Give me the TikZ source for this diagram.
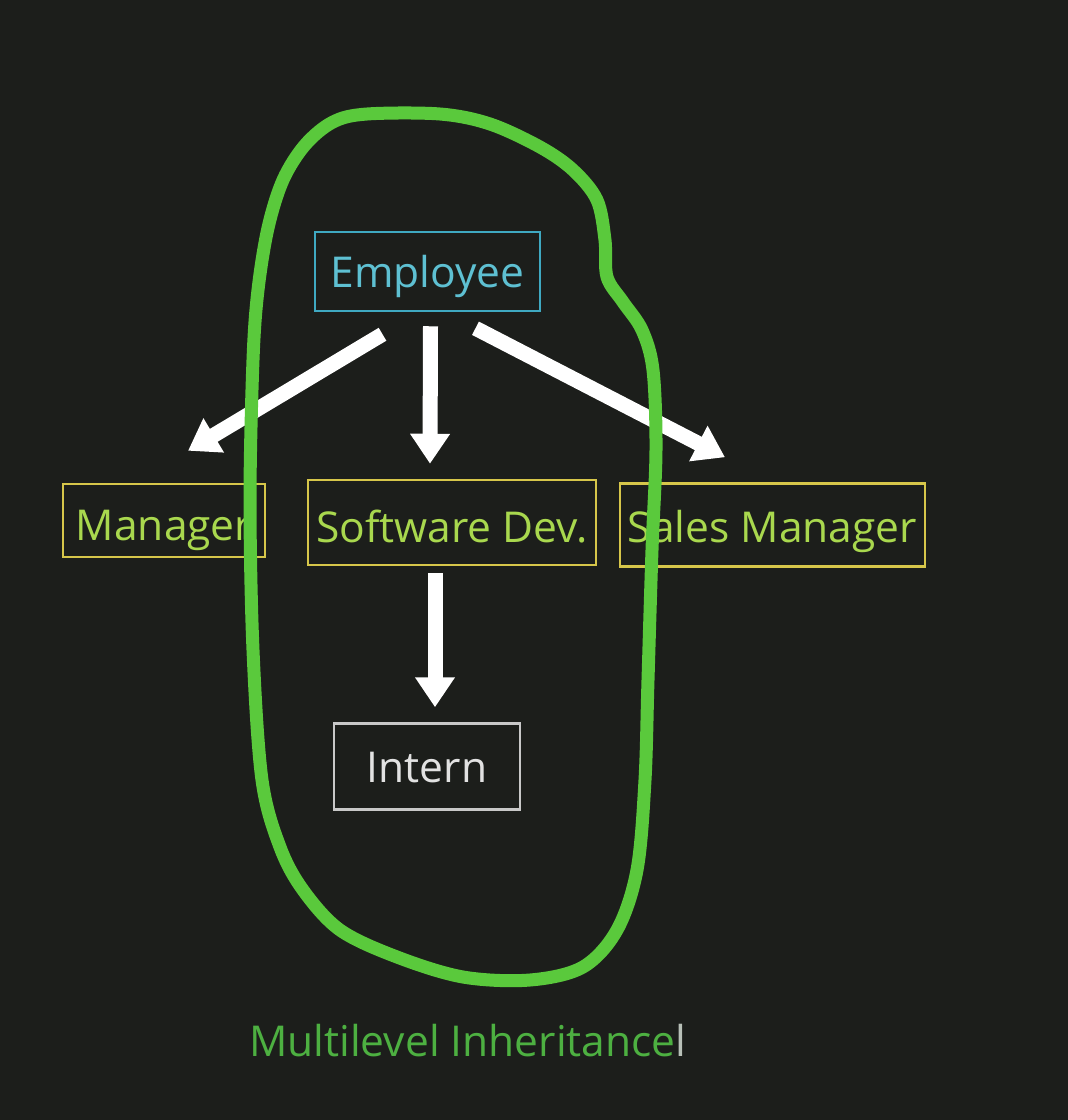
\documentclass[tikz,border=0pt]{standalone}
\usepackage{fontspec}
\setmainfont{Open Sans}
\usetikzlibrary{arrows.meta,calc}
\definecolor{bg}{HTML}{1C1E1B}
\definecolor{cyanb}{HTML}{3FA9C2}
\definecolor{cyant}{HTML}{5EC0D2}
\definecolor{yelb}{HTML}{D6C64A}
\definecolor{yelt}{HTML}{A9D84E}
\definecolor{grayb}{HTML}{C8C8C8}
\definecolor{grayt}{HTML}{E2E2E2}
\definecolor{pen}{HTML}{5AC93C}
\definecolor{lbl}{HTML}{4DB041}
\definecolor{cursor}{HTML}{B8C0B8}
\tikzset{
  classbox/.style={draw, line width=2.5pt, inner sep=0pt,
    font=\fontsize{42.5}{50}\selectfont, text height=42pt, text depth=10pt},
  inharrow/.style={draw=white, line width=15pt,
    -{Triangle[width=38pt,length=30pt]}},
  penloop/.style={draw=pen, line width=13pt, line join=round}
}
\begin{document}
\begin{tikzpicture}[x=1pt,y=-1pt]
\fill[bg] (0,0) rectangle (1068,1120);
\useasboundingbox (0,0) rectangle (1068,1120);

\node[classbox, draw=cyanb, text=cyant, minimum width=225pt, minimum height=79pt] (emp) at (427.5,271.5) {Employee};
\node[classbox, draw=yelb, text=yelt, minimum width=202pt, minimum height=73pt, text height=50pt] (mgr) at (164,520.5) {Manager};
\node[classbox, draw=yelb, text=yelt, minimum width=288pt, minimum height=85pt, text height=50pt] (sd) at (452,522.5) {Software Dev.};
\node[classbox, draw=yelb, text=yelt, minimum width=305pt, minimum height=83pt, text height=44pt] (sales) at (772.5,525) {Sales Manager};
\node[classbox, draw=grayb, text=grayt, minimum width=186pt, minimum height=86pt, text height=41pt] (intern) at (427,766.5) {Intern};

\draw[inharrow] ($(emp.south)+(-45,22)$) -- ($(mgr.north)+(24,-32)$);
\draw[inharrow] ($(emp.south)+(3,14)$) -- ($(sd.north)+(-22,-15)$);
\draw[inharrow] ($(emp.south)+(48,16)$) -- ($(sales.north)+(-47.5,-25)$);
\draw[inharrow] ($(sd.south)+(-17,7)$) -- ($(intern.north)+(8,-15)$);

\node[font=\fontsize{42.5}{50}\selectfont, text=lbl, anchor=base west, inner sep=0pt] (lab) at (249,1056) {Multilevel Inheritance\textcolor{cursor}{l}};

\draw[penloop] plot[smooth cycle, tension=0.55] coordinates {
(367,114) (440,114) (490,124) (540,147) (573,170) (597,200) (605,240) (607,277)
(623,302) (642,330) (653,370) (656,450) (652,550) (648,680) (645,780) (637,870)
(617,930) (583,967) (530,980) (463,977) (397,957) (340,930) (303,890) (280,847)
(262,780) (253,650) (250,500) (253,360) (258,290) (268,228) (283,180) (305,145) (333,122)};
\end{tikzpicture}
\end{document}
